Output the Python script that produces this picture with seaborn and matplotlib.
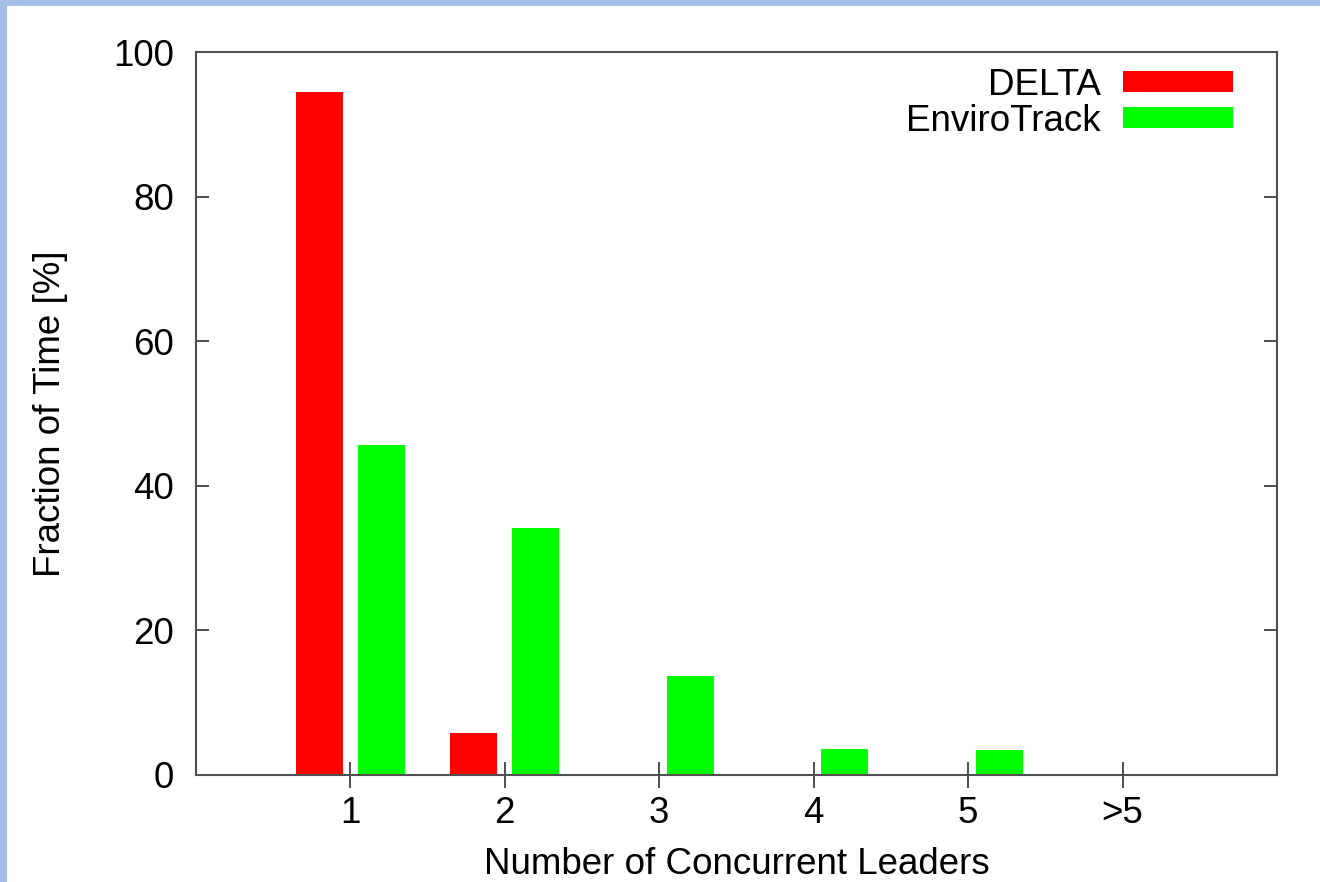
import matplotlib
matplotlib.use("Agg")
import matplotlib.pyplot as plt
from matplotlib.patches import Rectangle
import pandas as pd
import seaborn as sns

# Share of time spent with a given number of concurrent leaders
categories = ["1", "2", "3", "4", "5", ">5"]
delta = [94.4, 5.8, 0.0, 0.0, 0.0, 0.0]
envirotrack = [45.6, 34.2, 13.7, 3.6, 3.4, 0.0]
series_names = ["DELTA", "EnviroTrack"]
series_colors = ["#ff0000", "#00ff00"]
y_ticks = [0, 20, 40, 60, 80, 100]

df = pd.DataFrame({
    "leaders": categories * 2,
    "fraction": delta + envirotrack,
    "system": [series_names[0]] * len(categories) + [series_names[1]] * len(categories),
})

sns.set_theme(style="white")
plt.rcParams["font.family"] = ["Liberation Sans", "DejaVu Sans"]
FS = 26.5

fig = plt.figure(figsize=(13.2, 8.82), dpi=100)
fig.patch.set_facecolor("white")
ax = fig.add_axes([196 / 1320, 1 - 775 / 882, (1277 - 196) / 1320, (775 - 52) / 882])

sns.barplot(
    data=df, x="leaders", y="fraction", hue="system",
    order=categories, hue_order=series_names,
    palette=dict(zip(series_names, series_colors)),
    width=0.8, gap=0.24, saturation=1.0, linewidth=0,
    ax=ax,
)

ax.set_xlim(-1, len(categories))
ax.set_ylim(0, 100)
ax.set_yticks(y_ticks)
ax.set_yticklabels([str(t) for t in y_ticks])

ax.set_xlabel("Number of Concurrent Leaders", fontsize=FS, color="black", labelpad=11)
ax.set_ylabel("Fraction of Time [%]", fontsize=FS, color="black", labelpad=32)

for side in ["left", "right", "top", "bottom"]:
    ax.spines[side].set_visible(True)
    ax.spines[side].set_color("#505050")
    ax.spines[side].set_linewidth(1.5)

ax.tick_params(axis="y", which="major", direction="in", length=9.4, width=1.3,
               color="#404040", labelsize=FS, labelcolor="black", pad=16,
               left=True, right=True)
ax.tick_params(axis="x", which="major", direction="inout", length=18.7, width=1.3,
               color="#404040", labelsize=FS, labelcolor="black", pad=6,
               bottom=True, top=False)

leg = ax.legend(
    loc="upper right", bbox_to_anchor=((1233 - 196) / 1081, 1 - (68 - 52) / 723),
    frameon=False, markerfirst=False, fontsize=FS,
    handlelength=3.0, handleheight=0.5, handletextpad=0.6,
    labelspacing=0.02, borderpad=0, borderaxespad=0,
)
for txt in leg.get_texts():
    txt.set_color("black")

# light blue frame strips along the left and top edges
fig.patches.append(Rectangle((0, 0), 7 / 1320, 1, transform=fig.transFigure,
                             facecolor="#a4bee8", edgecolor="none", zorder=-1))
fig.patches.append(Rectangle((0, 1 - 6 / 882), 1, 6 / 882, transform=fig.transFigure,
                             facecolor="#a4bee8", edgecolor="none", zorder=-1))

fig.savefig("out.png", dpi=100, facecolor="white")
